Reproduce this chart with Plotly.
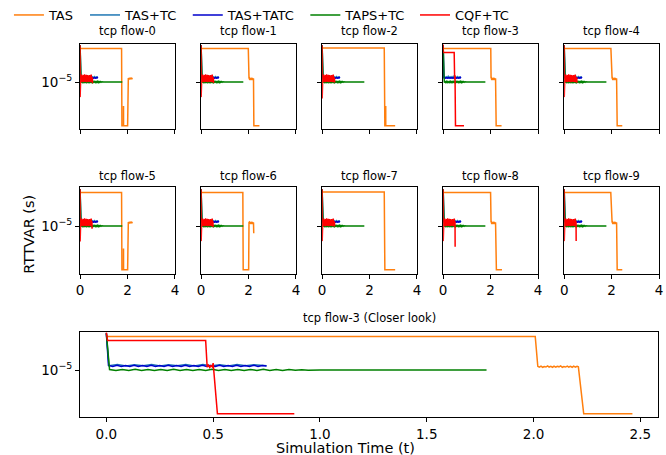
import plotly.graph_objects as go

# ---------------- data ----------------
FLOW_TITLES = ["tcp flow-0", "tcp flow-1", "tcp flow-2", "tcp flow-3", "tcp flow-4",
               "tcp flow-5", "tcp flow-6", "tcp flow-7", "tcp flow-8", "tcp flow-9"]
CLOSE_TITLE = "tcp flow-3 (Closer look)"
CLOSE_FLOW = 3
SERIES = ["TAS", "TAS+TC", "TAS+TATC", "TAPS+TC", "CQF+TC"]
COLORS = ["#ff7f0e", "#1f77b4", "#0000cd", "#008000", "#ff0000"]

# TAS noisy plateau near 1e-5 (~2.0 s .. 2.2 s)
OB_T = [2.020, 2.027, 2.035, 2.043, 2.050, 2.058, 2.066, 2.073, 2.081, 2.089,
        2.096, 2.104, 2.112, 2.119, 2.127, 2.135, 2.142, 2.150, 2.158, 2.165,
        2.173, 2.181, 2.188, 2.196, 2.204, 2.210]
OB_V = [1.15e-5, 1.12e-5, 1.16e-5, 1.11e-5, 1.14e-5, 1.12e-5, 1.17e-5, 1.12e-5, 1.15e-5, 1.11e-5,
        1.16e-5, 1.12e-5, 1.15e-5, 1.13e-5, 1.17e-5, 1.11e-5, 1.14e-5, 1.12e-5, 1.16e-5, 1.12e-5,
        1.15e-5, 1.11e-5, 1.16e-5, 1.12e-5, 1.15e-5, 1.13e-5]

# TAS per flow
TAS_T = [
    [0.0, 1.750, 1.765, 1.830, 1.832, 1.834, 2.005] + OB_T,
    [0.0, 1.990] + OB_T + [2.225, 2.460],
    [0.0, 2.620, 2.645, 2.680, 2.682, 2.684, 3.080],
    [0.0, 2.008] + OB_T + [2.235, 2.463],
    [0.0, 1.970] + OB_T + [2.235, 2.450],
    [0.0, 1.750, 1.765, 1.830, 1.832, 1.834, 2.005] + OB_T,
    [0.0, 1.760, 1.775, 2.005] + OB_T + [2.220],
    [0.0, 2.620, 2.645, 3.080],
    [0.0, 2.000] + OB_T + [2.245, 2.480],
    [0.0, 1.965] + OB_T + [2.235, 2.450],
]
TAS_V = [
    [3.63e-5, 3.63e-5, 1.86e-6, 1.86e-6, 4.0e-6, 1.86e-6, 1.86e-6] + OB_V,
    [3.63e-5, 3.63e-5] + OB_V + [1.86e-6, 1.86e-6],
    [3.70e-5, 3.70e-5, 1.86e-6, 1.86e-6, 4.0e-6, 1.86e-6, 1.86e-6],
    [3.63e-5, 3.63e-5] + OB_V + [1.86e-6, 1.86e-6],
    [3.63e-5, 3.63e-5] + OB_V + [1.86e-6, 1.86e-6],
    [3.63e-5, 3.63e-5, 1.86e-6, 1.86e-6, 4.2e-6, 1.86e-6, 1.86e-6] + OB_V,
    [3.63e-5, 3.63e-5, 1.86e-6, 1.86e-6] + OB_V + [7.6e-6],
    [3.70e-5, 3.70e-5, 1.86e-6, 1.86e-6],
    [3.63e-5, 3.63e-5] + OB_V + [1.86e-6, 1.86e-6],
    [3.63e-5, 3.63e-5] + OB_V + [1.86e-6, 1.86e-6],
]

# TAS+TC (same for every flow)
TC_T = [0.0, 0.012, 0.052, 0.092, 0.132, 0.172, 0.212, 0.252, 0.292, 0.332, 0.372,
        0.412, 0.452, 0.492, 0.532, 0.572, 0.612, 0.652, 0.692, 0.732, 0.750]
TC_V = [4.1e-5, 1.18e-5, 1.23e-5, 1.17e-5, 1.22e-5, 1.18e-5, 1.24e-5, 1.17e-5, 1.22e-5, 1.18e-5, 1.23e-5,
        1.17e-5, 1.24e-5, 1.18e-5, 1.22e-5, 1.17e-5, 1.23e-5, 1.18e-5, 1.22e-5, 1.17e-5, 1.18e-5]

# TAS+TATC (same for every flow)
TATC_T = [0.0, 0.010, 0.030, 0.050, 0.070, 0.090, 0.110, 0.130, 0.150, 0.170, 0.190,
          0.210, 0.230, 0.250, 0.270, 0.290, 0.310, 0.330, 0.350, 0.370, 0.390,
          0.410, 0.430, 0.450, 0.470, 0.490, 0.510, 0.530, 0.550, 0.570, 0.590,
          0.610, 0.630, 0.650, 0.670, 0.690, 0.710, 0.730, 0.750]
TATC_V = [4.1e-5, 1.19e-5, 1.15e-5, 1.20e-5, 1.14e-5, 1.19e-5, 1.15e-5, 1.20e-5, 1.15e-5, 1.19e-5, 1.14e-5,
          1.20e-5, 1.15e-5, 1.19e-5, 1.15e-5, 1.20e-5, 1.14e-5, 1.19e-5, 1.15e-5, 1.20e-5, 1.15e-5,
          1.19e-5, 1.14e-5, 1.20e-5, 1.15e-5, 1.19e-5, 1.15e-5, 1.20e-5, 1.14e-5, 1.19e-5, 1.15e-5,
          1.20e-5, 1.15e-5, 1.19e-5, 1.14e-5, 1.20e-5, 1.15e-5, 1.19e-5, 1.17e-5]

# TAPS+TC (same for every flow)
TAPS_T = [0.0, 0.015, 0.045, 0.075, 0.105, 0.135, 0.165, 0.195, 0.225, 0.255, 0.285,
          0.315, 0.345, 0.375, 0.405, 0.435, 0.465, 0.495, 0.525, 0.555, 0.585,
          0.615, 0.645, 0.675, 0.705, 0.735, 0.765, 0.795, 0.825, 0.855, 0.885,
          0.915, 0.945, 0.975, 1.000, 1.200, 1.400, 1.600, 1.780]
TAPS_V = [4.1e-5, 1.02e-5, 0.98e-5, 1.02e-5, 0.985e-5, 1.025e-5, 0.98e-5, 1.02e-5, 0.985e-5, 1.02e-5, 0.98e-5,
          1.025e-5, 0.985e-5, 1.02e-5, 0.98e-5, 1.02e-5, 0.985e-5, 1.025e-5, 0.98e-5, 1.02e-5, 0.985e-5,
          1.02e-5, 0.98e-5, 1.02e-5, 0.985e-5, 1.025e-5, 0.98e-5, 1.02e-5, 0.985e-5, 1.015e-5, 0.99e-5,
          1.01e-5, 0.995e-5, 1.01e-5, 1.00e-5, 1.00e-5, 1.00e-5, 1.00e-5, 1.00e-5]

# CQF+TC noisy block (0 .. 0.5 s)
RB_T = [0.008, 0.028, 0.048, 0.068, 0.088, 0.108, 0.128, 0.148, 0.168, 0.188,
        0.208, 0.228, 0.248, 0.268, 0.288, 0.308, 0.328, 0.348, 0.368, 0.388,
        0.408, 0.428, 0.448, 0.468, 0.488]
RB_V = [1.02e-5, 1.30e-5, 1.00e-5, 1.33e-5, 1.01e-5, 1.28e-5, 0.99e-5, 1.31e-5, 1.02e-5, 1.34e-5,
        1.00e-5, 1.29e-5, 1.01e-5, 1.32e-5, 0.99e-5, 1.30e-5, 1.02e-5, 1.27e-5, 1.00e-5, 1.31e-5,
        1.01e-5, 1.29e-5, 0.99e-5, 1.33e-5, 1.01e-5]

CQF_T = [
    [0.0, 0.003, 0.006] + RB_T + [0.520, 0.525],
    [0.0, 0.003, 0.006] + RB_T + [0.520, 0.525],
    [0.0, 0.003, 0.006] + RB_T + [0.520, 0.525],
    [0.0, 0.006, 0.465, 0.472, 0.478, 0.484, 0.490, 0.496, 0.500, 0.520, 0.880],
    [0.0, 0.003, 0.006] + RB_T + [0.530, 0.535],
    [0.0, 0.003, 0.006] + RB_T + [0.500, 0.505],
    [0.0, 0.003, 0.006] + RB_T + [0.500, 0.505],
    [0.0, 0.003, 0.006] + RB_T + [0.520, 0.525],
    [0.0, 0.003, 0.006] + RB_T + [0.500, 0.505],
    [0.0, 0.003, 0.006] + RB_T + [0.500, 0.505],
]
CQF_V = [
    [4.1e-5, 5.6e-6, 1.1e-5] + RB_V + [1.2e-5, 9.5e-6],
    [4.1e-5, 5.6e-6, 1.1e-5] + RB_V + [1.2e-5, 9.6e-6],
    [4.1e-5, 5.3e-6, 1.1e-5] + RB_V + [1.2e-5, 9.8e-6],
    [4.2e-5, 3.09e-5, 3.09e-5, 1.12e-5, 1.20e-5, 1.10e-5, 1.18e-5, 1.13e-5, 1.30e-5, 1.86e-6, 1.86e-6],
    [4.1e-5, 5.6e-6, 1.1e-5] + RB_V + [1.2e-5, 9.7e-6],
    [4.1e-5, 5.5e-6, 1.1e-5] + RB_V + [1.2e-5, 9.0e-6],
    [4.1e-5, 5.6e-6, 1.1e-5] + RB_V + [1.2e-5, 9.6e-6],
    [4.1e-5, 5.6e-6, 1.1e-5] + RB_V + [1.2e-5, 9.8e-6],
    [4.1e-5, 5.6e-6, 1.1e-5] + RB_V + [1.2e-5, 4.5e-6],
    [4.1e-5, 5.6e-6, 1.1e-5] + RB_V + [1.2e-5, 5.6e-6],
]

SMALL_XTICKS = [0, 2, 4]
CLOSE_XTICKS = [0.0, 0.5, 1.0, 1.5, 2.0, 2.5]
CLOSE_XTICKTEXT = ["0.0", "0.5", "1.0", "1.5", "2.0", "2.5"]
YTICKS = [1e-5]
YTICKTEXT = ["10<sup>−5</sup>"]

# ---------------- layout helpers ----------------
W, H = 666, 455
FONT = "DejaVu Sans"


def fx(p):
    return p / W


def fy(p):
    return 1 - p / H


D = 60.0  # pixels per decade
COL_X = [77, 199.5, 322, 444.5, 567]
COL_W = 96
ROWS = [(44, 129.3, 82, 31.5), (187.3, 274, 226, 176.5)]
BOTTOM = (331.7, 417.3, 370, 318)


def yrange(row):
    top, bot, tick, _ = row
    return [-5 - (bot - tick) / D, -5 + (tick - top) / D]


fig = go.Figure()
layout = dict(width=W, height=H, margin=dict(l=0, r=0, t=0, b=0),
              paper_bgcolor="white", plot_bgcolor="white",
              font=dict(family=FONT, color="black"), showlegend=True)
annotations = []

series_data = [
    (TAS_T, TAS_V),
    ([TC_T] * 10, [TC_V] * 10),
    ([TATC_T] * 10, [TATC_V] * 10),
    ([TAPS_T] * 10, [TAPS_V] * 10),
    (CQF_T, CQF_V),
]

axis_common = dict(showgrid=False, zeroline=False, showline=True, mirror=True,
                   linecolor="black", linewidth=1, ticks="outside", ticklen=4,
                   tickwidth=1, tickcolor="black", tickfont=dict(size=13.5, family=FONT))

panels = []
for i in range(10):
    r, c = divmod(i, 5)
    panels.append(dict(flow=i, row=ROWS[r], x0=COL_X[c], x1=COL_X[c] + COL_W,
                       title=FLOW_TITLES[i], close=False, showx=(r == 1), showy=(c == 0)))
panels.append(dict(flow=CLOSE_FLOW, row=BOTTOM, x0=77, x1=662, title=CLOSE_TITLE,
                   close=True, showx=True, showy=True))

legend_x_px = [5, 82, 186, 305, 416]

for k, p in enumerate(panels):
    n = k + 1
    xa = "xaxis" if n == 1 else f"xaxis{n}"
    ya = "yaxis" if n == 1 else f"yaxis{n}"
    top, bot, tick, ttl = p["row"]
    xd = dict(axis_common, domain=[fx(p["x0"]), fx(p["x1"])], anchor=f"y{n}" if n > 1 else "y",
              showticklabels=p["showx"])
    if p["close"]:
        xd.update(range=[-0.123, 2.583], tickvals=CLOSE_XTICKS, ticktext=CLOSE_XTICKTEXT)
    else:
        xd.update(range=[0, 4], tickvals=SMALL_XTICKS)
    yd = dict(axis_common, type="log", domain=[fy(bot), fy(top)], range=yrange(p["row"]),
              anchor=f"x{n}" if n > 1 else "x", tickvals=YTICKS, ticktext=YTICKTEXT,
              showticklabels=p["showy"])
    layout[xa] = xd
    layout[ya] = yd
    annotations.append(dict(text=p["title"], x=fx((p["x0"] + p["x1"]) / 2), y=fy(ttl),
                            xref="paper", yref="paper", xanchor="center", yanchor="middle",
                            showarrow=False, font=dict(size=11.5, family=FONT)))
    f = p["flow"]
    for s, (ts, vs) in enumerate(series_data):
        leg = "legend" if s == 0 else f"legend{s + 1}"
        fig.add_trace(go.Scatter(
            x=ts[f], y=vs[f], mode="lines", name=SERIES[s],
            line=dict(color=COLORS[s], width=1.5),
            xaxis=f"x{n}" if n > 1 else "x", yaxis=f"y{n}" if n > 1 else "y",
            legend=leg, legendgroup=SERIES[s], showlegend=(k == 0)))

for s in range(5):
    key = "legend" if s == 0 else f"legend{s + 1}"
    layout[key] = dict(x=fx(legend_x_px[s]), y=fy(15), xanchor="left", yanchor="middle",
                       orientation="h", bgcolor="rgba(0,0,0,0)", borderwidth=0,
                       font=dict(size=13, family=FONT), itemwidth=30)

annotations.append(dict(text="RTTVAR (s)", x=fx(25), y=fy(234), xref="paper", yref="paper",
                        xanchor="center", yanchor="middle", textangle=-90, showarrow=False,
                        font=dict(size=14.5, family=FONT)))
annotations.append(dict(text="Simulation Time (t)", x=fx(346), y=fy(447.5), xref="paper",
                        yref="paper", xanchor="center", yanchor="middle", showarrow=False,
                        font=dict(size=14.5, family=FONT)))
layout["annotations"] = annotations
fig.update_layout(**layout)
fig.write_html("out.html")
